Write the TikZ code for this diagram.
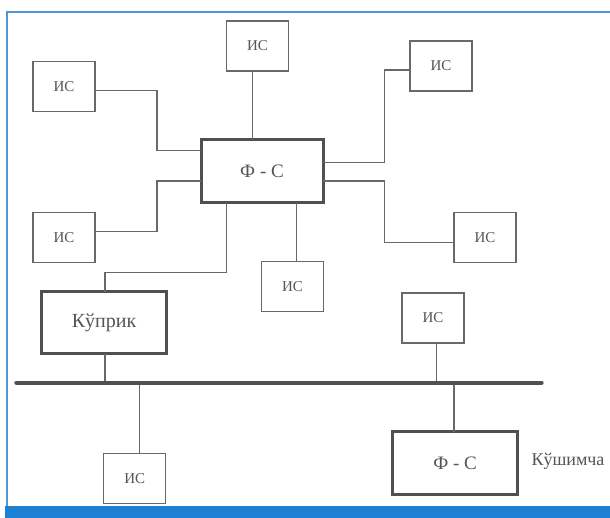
\documentclass[tikz,border=0pt]{standalone}
\usepackage{fontspec}
\setmainfont{Liberation Serif}
\definecolor{framebl}{RGB}{80,150,215}
\definecolor{bandbl}{RGB}{30,128,210}
\definecolor{boxgray}{RGB}{105,105,105}
\definecolor{boldgray}{RGB}{80,80,80}
\definecolor{txtgray}{RGB}{85,85,85}
\begin{document}
\begin{tikzpicture}[x=1pt,y=1pt,
  icbox/.style={draw=boxgray,line width=1.3pt,fill=white,minimum width=62pt,minimum height=50pt,inner sep=0pt,outer sep=0pt,text=txtgray,font=\fontsize{15}{17}\selectfont},
  boldbox/.style={draw=boldgray,line width=3pt,fill=white,inner sep=0pt,outer sep=0pt,text=txtgray,font=\fontsize{19}{21}\selectfont},
  link/.style={draw=boxgray,line width=1.1pt},
  busline/.style={draw=boldgray,line width=4pt,line cap=round},
  lbl/.style={text=txtgray,font=\fontsize{18}{20}\selectfont,inner sep=0pt}]
\useasboundingbox (0,0) rectangle (610,518);
\fill[white] (0,0) rectangle (610,518);
% frame
\draw[framebl,line width=2pt] (7,0) -- (7,506) -- (610,506);
\fill[bandbl] (5,0) rectangle (610,11.5);
% bus
\coordinate (busL) at (16.3,135.3);
\coordinate (busR) at (541.6,135.3);
\coordinate (t1) at (436.5,135.3);
\coordinate (t2) at (139.3,135.3);
\coordinate (t3) at (454,135.3);
% nodes
\node[icbox] (ic1) at (257.5,472) {ИС};
\node[icbox] (ic2) at (64,431.5) {ИС};
\node[icbox] (ic3) at (441,452) {ИС};
\node[boldbox,minimum width=122pt,minimum height=63pt] (fc) at (262,346.5) {Ф - С};
\node[icbox] (ic4) at (64,280.7) {ИС};
\node[icbox] (ic5) at (485,280.7) {ИС};
\node[icbox] (ic6) at (292.5,231.3) {ИС};
\node[boldbox,minimum width=125pt,minimum height=62pt,font=\fontsize{20}{22}\selectfont] (br) at (104,195.2) {Кўприк};
\node[icbox] (ic7) at (433,200) {ИС};
\node[icbox] (ic8) at (134.8,39.3) {ИС};
\node[boldbox,minimum width=124.5pt,minimum height=63pt] (fc2) at (455,54.7) {Ф - С};
\node[lbl] (add) at (568,56.3) {Кўшимча};
% connectors
\draw[link] ([yshift=-4.2pt]ic2.east) -- ++(62,0) |- ([yshift=20.8pt]fc.west);
\draw[link] ([xshift=-9.1pt]fc.north) -- ++(0,69);
\draw[link] ([yshift=-4pt]ic3.west) -- ++(-25.6,0) |- ([yshift=9.2pt]fc.east);
\draw[link] ([yshift=-9.5pt]fc.west) -- ++(-44,0) |- ([yshift=5.6pt]ic4.east);
\draw[link] ([yshift=-9.5pt]fc.east) -- ++(61.4,0) |- ([yshift=-5pt]ic5.west);
\draw[link] ([xshift=34.9pt]fc.south) -- ([xshift=4.4pt]ic6.north);
\draw[link] ([xshift=-35.2pt]fc.south) -- ++(0,-69.3) -| ([xshift=1pt]br.north);
\draw[link] ([xshift=1pt]br.south) -- ([xshift=1pt]br.south |- busL);
\draw[link] ([xshift=3.5pt]ic7.south) -- (t1);
\draw[link] (t2) -- ([xshift=4.5pt]ic8.north);
\draw[link] (t3) -- (t3 |- fc2.north);
\draw[busline] (busL) -- (busR);
\end{tikzpicture}
\end{document}
